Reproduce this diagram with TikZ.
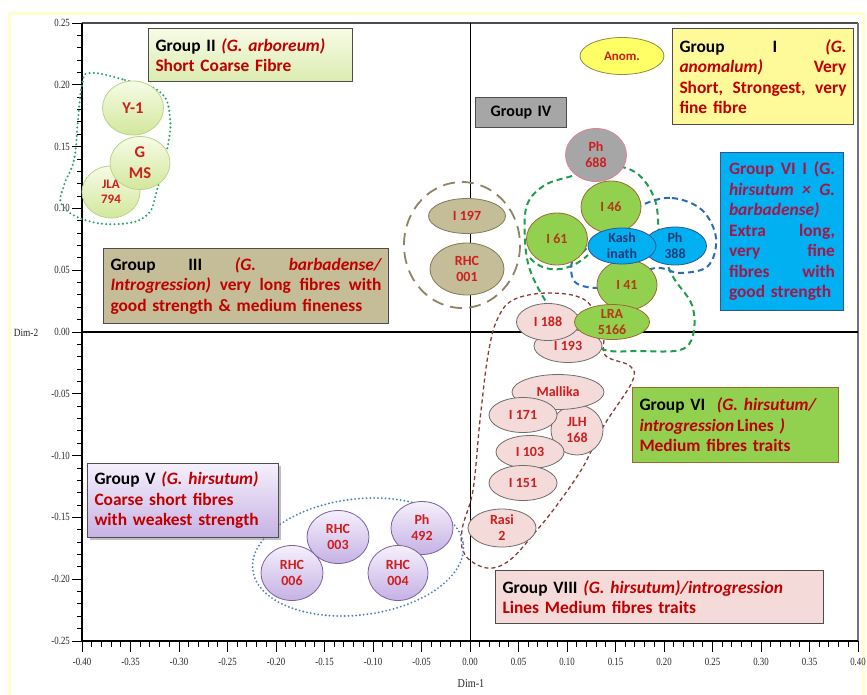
\documentclass[tikz,border=0pt]{standalone}
\usepackage{fontspec}
\setmainfont{Carlito}
\newfontfamily\axisfont{Liberation Serif}
\usetikzlibrary{shapes.geometric,shadows}
\newcommand{\jl}[2]{\makebox[#1][l]{#2}}
\definecolor{tred}{HTML}{C00000}
\definecolor{nred}{HTML}{CC1F1F}
\definecolor{crim}{HTML}{A3174B}
\definecolor{boxbd}{HTML}{4D4D4D}
\definecolor{g2top}{HTML}{F7FBE6}
\definecolor{g2bot}{HTML}{D2E79C}
\definecolor{g2bd}{HTML}{BDD38A}
\definecolor{pinkfill}{HTML}{F4DAD8}
\definecolor{pinkbd}{HTML}{6E6E6E}
\definecolor{greenfill}{HTML}{92D050}
\definecolor{greenbd}{HTML}{9C6A2E}
\definecolor{greentext}{HTML}{B23A16}
\definecolor{bluefill}{HTML}{00B0F0}
\definecolor{bluebd}{HTML}{2F5597}
\definecolor{bluetext}{HTML}{1F3D7A}
\definecolor{olivefill}{HTML}{C4BD97}
\definecolor{olivebd}{HTML}{7F7A5A}
\definecolor{grayfill}{HTML}{A6A6A6}
\definecolor{ph688bd}{HTML}{E0809A}
\definecolor{anomfill}{HTML}{FFFF66}
\definecolor{anombd}{HTML}{8C8C3C}
\definecolor{purtop}{HTML}{F5F0FC}
\definecolor{purbot}{HTML}{C6B1E4}
\definecolor{purbd}{HTML}{7A62A0}
\definecolor{dotgreen}{HTML}{2FA46F}
\definecolor{dotblue}{HTML}{4F81BD}
\definecolor{dashgreen}{HTML}{1E9E4E}
\definecolor{dashblue}{HTML}{2E6DB4}
\definecolor{dasholive}{HTML}{8C8465}
\definecolor{dashbrown}{HTML}{8B3A3A}
\definecolor{frameyellow}{HTML}{FFFFCC}
\begin{document}
\begin{tikzpicture}[x=1pt,y=-1pt,
  lab/.style={ellipse, draw, line width=0.8pt, inner sep=-12pt, align=center,
    font=\fontsize{14}{16}\selectfont\bfseries, text=nred},
  sz/.style 2 args={minimum width=#1pt, minimum height=#2pt},
  g2n/.style={lab, draw=g2bd, top color=g2top, bottom color=g2bot},
  pinkn/.style={lab, draw=pinkbd, fill=pinkfill},
  greenn/.style={lab, draw=greenbd, fill=greenfill, text=greentext},
  bluen/.style={lab, draw=bluebd, fill=bluefill, text=bluetext},
  oliven/.style={lab, draw=olivebd, fill=olivefill},
  purpn/.style={lab, draw=purbd, top color=purtop, bottom color=purbot},
  gbox/.style={draw=boxbd, line width=1pt, anchor=north west, align=left,
    inner xsep=7pt, inner ysep=3pt, text=black,
    font=\fontsize{17.4}{20.5}\selectfont\bfseries},
  g2dot/.style={draw=dotgreen, line width=2.3pt, dash pattern=on 0pt off 4.2pt, line cap=round},
  vdot/.style={draw=dotblue, line width=2.1pt, dash pattern=on 0pt off 3.8pt, line cap=round},
  gdash/.style={draw=dashgreen, line width=2pt, dash pattern=on 6pt off 4pt},
  bdash/.style={draw=dashblue, line width=2pt, dash pattern=on 6pt off 4pt},
  odash/.style={draw=dasholive, line width=1.8pt, dash pattern=on 12pt off 7pt},
  rdash/.style={draw=dashbrown, line width=1.3pt, dash pattern=on 4pt off 3pt},
  ticklab/.style={font=\axisfont\fontsize{11}{12}\selectfont, inner sep=0pt, text=black!85}
]
\useasboundingbox (0,0) rectangle (867,694);
\fill[white] (0,0) rectangle (867,694);
\draw[frameyellow, line width=3pt] (9,13) rectangle (863,700);

% ---- axes and frame ----
\draw[black!70, line width=1.6pt] (82,23) -- (858,23);
\draw[black!55, line width=1.4pt] (858,23) -- (858,641);
\draw[black, line width=1.2pt] (82,23) -- (82,641) -- (858,641);
\draw[black, line width=1.3pt] (82,332) -- (858,332);
\draw[black, line width=0.9pt] (470,23) -- (470,641);
\foreach \i in {0,...,50} \draw[black, line width=0.9pt] (77,{23+\i*12.36}) -- (82,{23+\i*12.36});
\foreach \k/\lab in {5/0.25,4/0.20,3/0.15,2/0.10,1/0.05,0/0.00,-1/-0.05,-2/-0.10,-3/-0.15,-4/-0.20,-5/-0.25}{
  \draw[black, line width=1pt] (72,{332-\k*61.8}) -- (82,{332-\k*61.8});
  \node[ticklab, anchor=east] (yl\k) at (70,{332-\k*61.8}) {\scalebox{0.8}[1]{\lab}};
}
\foreach \i in {0,...,80} \draw[black, line width=0.9pt] ({82+\i*9.7},641) -- ({82+\i*9.7},647);
\foreach \k/\lab in {-8/-0.40,-7/-0.35,-6/-0.30,-5/-0.25,-4/-0.20,-3/-0.15,-2/-0.10,-1/-0.05,0/0.00,1/0.05,2/0.10,3/0.15,4/0.20,5/0.25,6/0.30,7/0.35,8/0.40}{
  \draw[black, line width=1pt] ({470+\k*48.5},641) -- ({470+\k*48.5},652);
  \node[ticklab] (xl\k) at ({470+\k*48.5},662) {\scalebox{0.8}[1]{\lab}};
}
\node[ticklab, font=\axisfont\fontsize{12}{13}\selectfont] (dim1) at (471,684) {\scalebox{0.85}[1]{Dim-1}};
\node[ticklab, font=\axisfont\fontsize{11}{12}\selectfont] (dim2) at (26,333) {\scalebox{0.85}[1]{Dim-2}};

% ---- group outlines ----
\draw[g2dot] plot[smooth cycle, tension=0.7] coordinates {(90,73)(125,80)(160,92)(170,118)(167,150)(157,190)(147,215)(120,224)(85,220)(62,205)(64,185)(74,160)(78,120)(82,85)};
\draw[odash] (462,245) ellipse [x radius=58, y radius=63];
\draw[rdash] plot[smooth cycle, tension=0.6] coordinates {(513,300)(548,293)(585,300)(603,330)(605,355)(630,366)(632,382)(603,427)(583,467)(557,505)(537,530)(510,560)(487,568)(465,555)(462,530)(473,490)(480,420)(488,355)(497,320)};
\draw[gdash] plot[smooth cycle, tension=0.6] coordinates {(575,175)(600,165)(635,172)(655,200)(660,240)(672,275)(692,305)(693,335)(680,350)(640,351)(605,350)(585,335)(560,318)(545,300)(530,270)(525,240)(527,205)(545,185)};
\draw[gdash] (530,258) .. controls (545,275) and (570,272) .. (588,255);
\draw[bdash] plot[smooth cycle, tension=0.6] coordinates {(642,205)(672,198)(702,210)(716,238)(708,266)(680,273)(655,268)(620,283)(597,288)(575,282)(572,262)(585,250)(610,225)};
\draw[vdot, rotate around={7:(358,557)}] (358,557) ellipse [x radius=106, y radius=58];

% ---- Group II nodes ----
\node[g2n, sz={61}{54}, font=\fontsize{16.5}{21}\selectfont\bfseries] (y1) at (133,108) {Y-1};
\node[g2n, sz={58}{52}, font=\fontsize{13}{15.5}\selectfont\bfseries] (jla) at (111,192) {JLA\\794};
\node[g2n, sz={60}{53}, font=\fontsize{16.5}{21}\selectfont\bfseries] (gms) at (140,163) {G\\MS};

% ---- Group III nodes ----
\node[oliven, sz={77}{35}] (i197) at (467,216) {I 197};
\node[oliven, sz={74}{52}] (rhc001) at (467,269) {RHC\\001};

% ---- Group I node ----
\node[lab, draw=anombd, fill=anomfill, sz={84}{37}, font=\fontsize{13}{15}\selectfont\bfseries] (anom) at (622,56) {Anom.};

% ---- Group IV / VI / VII cluster ----
\node[lab, draw=ph688bd, fill=grayfill, sz={61}{53}] (ph688) at (596,155) {Ph\\688};
\node[greenn, sz={61}{52}] (i61) at (557,239) {I 61};
\node[greenn, sz={60}{52}] (i46) at (611,207) {I 46};
\node[greenn, sz={60}{50}] (i41) at (627,285) {I 41};
\node[bluen, sz={63}{38}] (ph388) at (675,246) {Ph\\388};
\node[bluen, sz={68}{36}] (kash) at (622,246) {Kash\\inath};
\node[pinkn, sz={68}{33}] (i193) at (568,346) {I 193};
\node[pinkn, sz={63}{37}] (i188) at (548,322) {I 188};
\node[greenn, sz={75}{35}] (lra) at (612,322) {LRA\\5166};

% ---- Group VIII nodes ----
\node[pinkn, sz={52}{50}] (jlh) at (577,430) {JLH\\168};
\node[pinkn, sz={92}{35}] (mallika) at (558,392) {Mallika};
\node[pinkn, sz={68}{35}] (i171) at (523,415) {I 171};
\node[pinkn, sz={68}{33}] (i103) at (530,452) {I 103};
\node[pinkn, sz={68}{35}] (i151) at (523,483) {I 151};
\node[pinkn, sz={68}{38}] (rasi) at (502,528) {Rasi\\2};

% ---- Group V nodes ----
\node[purpn, sz={62}{55}] (rhc006) at (292,573) {RHC\\006};
\node[purpn, sz={62}{53}] (rhc003) at (338,537) {RHC\\003};
\node[purpn, sz={62}{53}] (ph492) at (422,528) {Ph\\492};
\node[purpn, sz={60}{55}] (rhc004) at (398,573) {RHC\\004};

% ---- description boxes ----
\node[gbox, top color=g2top, bottom color=g2bot!80, text width=190pt, minimum height=53pt] (boxII) at (148,28)
  {Group II {\color{tred}\itshape (G. arboreum)}\\ {\color{tred}Short Coarse Fibre}};
\node[gbox, fill=yellow!40, text width=167pt, minimum height=96pt] (boxI) at (672,28)
  {\jl{167pt}{Group\hfill I\hfill{\color{tred}\itshape (G.}}\\
   \jl{167pt}{\color{tred}{\itshape anomalum)}\hfill Very}\\
   \jl{167pt}{\color{tred}Short,\hfill Strongest,\hfill very}\\
   {\color{tred}fine fibre}};
\node[gbox, fill=grayfill, align=center, font=\fontsize{16}{19}\selectfont\bfseries, text width=77pt, minimum height=30pt] (boxIV) at (475,97) {Group IV};
\node[gbox, fill=bluefill, draw=bluebd, text=crim, text width=106pt, inner xsep=8.5pt, minimum height=158pt] (boxVII) at (720,152)
  {\jl{106pt}{Group\hfill VI\hfill I\hfill (G.}\\
   \jl{106pt}{\itshape hirsutum\hfill ×\hfill G.}\\
   {\itshape barbadense)}\\
   \jl{106pt}{Extra\hfill long,}\\
   \jl{106pt}{very\hfill fine}\\
   \jl{106pt}{fibres\hfill with}\\
   good strength};
\node[gbox, fill=olivefill, text width=271pt, minimum height=75pt] (boxIII) at (103,248)
  {\jl{271pt}{Group\hfill III\hfill{\color{tred}\itshape (G.\hfill barbadense/}}\\
   \jl{271pt}{\color{tred}{\itshape Introgression)}\hfill very\hfill long\hfill fibres\hfill with}\\
   {\color{tred}good strength \& medium fineness}};
\node[gbox, fill=greenfill, draw=greenbd, text width=192pt, minimum height=75pt] (boxVI) at (632,387)
  {Group VI\ \ {\color{tred}\itshape (G. hirsutum/}\\
   {\color{tred}{\itshape introgression}\,Lines \itshape)}\\
   {\color{tred}Medium fibres traits}};
\node[gbox, top color=purtop, bottom color=purbot, drop shadow, text width=177pt, minimum height=74pt] (boxV) at (87,463)
  {Group V {\color{tred}\itshape (G. hirsutum)}\\
   {\color{tred}Coarse short fibres}\\
   {\color{tred}with weakest strength}};
\node[gbox, fill=pinkfill, text width=314pt, minimum height=53pt] (boxVIII) at (495,570)
  {Group VIII {\color{tred}\itshape (G. hirsutum)/introgression}\\
   {\color{tred}Lines Medium fibres traits}};
\end{tikzpicture}
\end{document}
